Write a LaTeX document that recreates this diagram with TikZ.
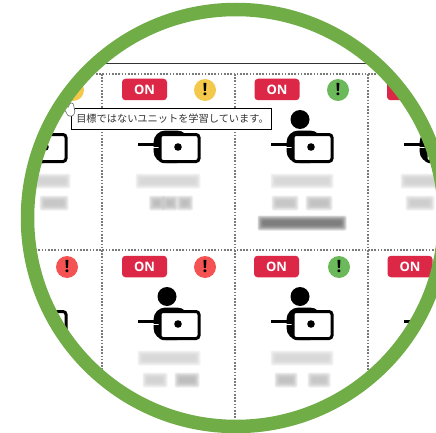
\documentclass[tikz,border=0pt]{standalone}
\usepackage{fontspec}
\setmainfont{Open Sans}
\newfontfamily\jpfont{Noto Sans CJK JP}
\definecolor{ringgreen}{HTML}{70AD47}
\definecolor{onred}{HTML}{DC2747}
\definecolor{alertyellow}{HTML}{F4C84A}
\definecolor{alertgreen}{HTML}{6CB95C}
\definecolor{alertred}{HTML}{F55353}
\definecolor{gridgray}{HTML}{7A7A7A}
\tikzset{
  gridline/.style={draw=gridgray,line width=1.1pt,dash pattern=on 1.6pt off 1.6pt},
  onbadge/.style={fill=onred,rounded corners=3.5pt,minimum width=45pt,minimum height=21.5pt,inner sep=0pt,text=white,font=\bfseries\fontsize{13}{13}\selectfont},
  alertdot/.style={circle,minimum size=22pt,inner sep=0pt,text=black,font=\bfseries\fontsize{17}{17}\selectfont},
  tip/.style={draw=black,fill=white,line width=.8pt,minimum width=200pt,minimum height=21pt,inner sep=0pt,text=black!80,font=\jpfont\fontsize{10.2}{10.2}\selectfont},
}
% soft blurred placeholder: centre x, centre y, width, height, grey level
\newcommand{\smudge}[5]{%
  \foreach \g in {5,4,3,2,1,0,-1}{%
    \fill[black!#5,opacity=.22,rounded corners=2pt]
      ({#1-#3/2-\g*.9},{#2-#4/2-\g*.9}) rectangle ({#1+#3/2+\g*.9},{#2+#4/2+\g*.9});
  }}
% person at a laptop, given by the column and row offset
\newcommand{\person}[2]{%
  \begin{scope}[shift={(#1,#2)}]
    \fill[black] (300,119.5) circle [radius=9.5pt];
    \fill[black,rounded corners=12pt] (286.5,130.5) rectangle (322,163);
    \draw[black,line width=3pt] (271,144) -- (291,144);
    \draw[white,line width=1.3pt] (284,147.5) -- (293,147.5);
    \draw[black,fill=white,line width=3pt,rounded corners=3pt] (293,134.5) rectangle (332,161.5);
    \fill[black] (311,147) circle [radius=3.8pt];
  \end{scope}}
\begin{document}
\begin{tikzpicture}[x=1pt,y=-1pt]
\useasboundingbox (0,0) rectangle (436,433);
\fill[white] (0,0) rectangle (436,433);
\begin{scope}
  \clip (236,218) circle [radius=203pt];
  % table frame
  \draw[black!80,line width=1.3pt] (0,63.5) -- (436,63.5);
  \draw[gridline] (0,74) -- (436,74);
  \draw[gridline] (0,250) -- (436,250);
  \draw[gridline] (102,74) -- (102,433);
  \draw[gridline] (235,74) -- (235,433);
  \draw[gridline] (368,74) -- (368,433);
  % people
  \person{-266}{0}\person{-133}{0}\person{0}{0}\person{133}{0}
  \person{-266}{177}\person{-133}{177}\person{0}{177}\person{133}{177}
  % blurred identifiers and names
  \smudge{52}{181}{28}{6}{20}
  \smudge{54}{203}{20}{6}{26}
  \smudge{168}{181}{56}{6}{18}
  \smudge{157}{203}{7}{6}{30}\smudge{170}{203}{7}{6}{30}\smudge{185}{203}{7}{6}{30}
  \smudge{302}{181}{54}{6}{18}
  \smudge{285}{203}{18}{6}{26}\smudge{319}{203}{18}{6}{28}
  \smudge{302}{223}{80}{6}{60}
  \smudge{420}{181}{30}{6}{20}
  \smudge{420}{203}{20}{6}{22}
  \smudge{169}{358}{54}{6}{18}
  \smudge{155}{380}{16}{6}{20}\smudge{187}{380}{16}{6}{30}
  \smudge{302}{358}{54}{6}{18}
  \smudge{286}{380}{14}{6}{28}\smudge{319}{380}{14}{6}{26}
  % badges, row 1
  \node[onbadge] (on12) at (144.5,89.5) {ON};
  \node[onbadge] (on13) at (277,89.5) {ON};
  \node[onbadge] (on14) at (409.5,89.5) {ON};
  \node[alertdot,fill=alertyellow] (al11) at (73,90) {!};
  \node[alertdot,fill=alertyellow] (al12) at (205,90) {!};
  \node[alertdot,fill=alertgreen] (al13) at (338,90) {!};
  % badges, row 2
  \node[onbadge] (on22) at (144.5,266.5) {ON};
  \node[onbadge] (on23) at (276.5,266.5) {ON};
  \node[onbadge] (on24) at (410,266.5) {ON};
  \node[alertdot,fill=alertred] (al21) at (67,267) {!};
  \node[alertdot,fill=alertred] (al22) at (205,267) {!};
  \node[alertdot,fill=alertgreen] (al23) at (339,267) {!};
\end{scope}
% tooltip and pointer
\node[tip] (tooltip) at (171,118.5) {\hspace{3pt}目標ではないユニットを学習しています。};
\draw[black!60,fill=white,line width=.6pt,rounded corners=1pt]
  (64,109) -- (67,105) -- (68,108) -- (70,103) -- (73,103) -- (74,107) -- (75,112) -- (73,116) -- (68,116) -- (66,112) -- cycle;
% ring
\draw[ringgreen,line width=13.5pt] (236,218) circle [radius=208.5pt];
\end{tikzpicture}
\end{document}
